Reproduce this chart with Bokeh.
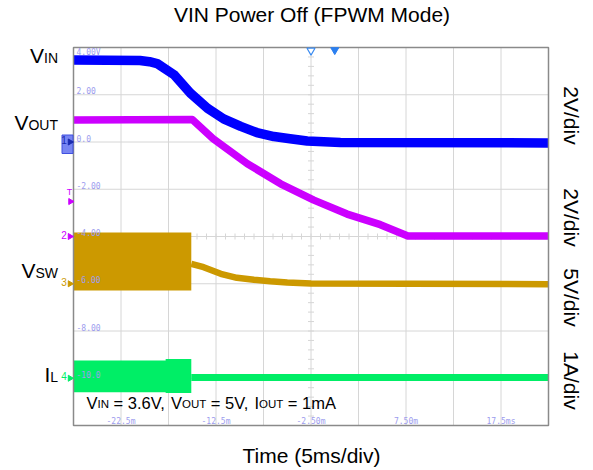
import numpy as np
from bokeh.plotting import figure
from bokeh.models import Range1d
from bokeh.core.properties import value
from bokeh.embed import file_html
from bokeh.resources import INLINE

# ---------------- data ----------------
title_text = "VIN Power Off (FPWM Mode)"
xlabel_text = "Time (5ms/div)"

t_left, t_right = -27.5, 22.5          # ms  (5 ms/div, 10 div)
v_top, v_bottom = 4.0, -12.0           # screen volts (2 V/div, 8 div)
grid_t = [-22.5, -17.5, -12.5, -7.5, -2.5, 2.5, 7.5, 12.5, 17.5]
grid_v = [2.0, 0.0, -2.0, -4.0, -6.0, -8.0, -10.0]
center_t, center_v = -2.5, -4.0
xtick_t = [-22.5, -12.5, -2.5, 7.5, 17.5]
xtick_labels = ["-22.5m", "-12.5m", "-2.50m", "7.50m", "17.5ms"]
ytick_v = [2.0, 0.0, -2.0, -4.0, -6.0, -8.0, -10.0]
ytick_labels = ["2.00", "0.0", "-2.00", "-4.00", "-6.00", "-8.00", "-10.0"]
ytop_label = "4.00V"

vin_t = [-27.5, -20.5, -19.5, -18.7, -16.9, -15.2, -13.4, -11.7, -9.9, -8.2, -6.4, -4.7, -2.9, 0.6, 22.5]
vin_v = [3.47, 3.45, 3.40, 3.32, 2.84, 2.07, 1.43, 0.98, 0.66, 0.40, 0.23, 0.14, 0.04, -0.02, -0.04]

vout_t = [-27.5, -15.0, -12.8, -9.2, -5.7, -2.2, 1.3, 4.8, 7.7, 22.5]
vout_v = [0.93, 0.95, 0.14, -0.92, -1.77, -2.46, -3.05, -3.50, -3.98, -3.98]

vsw_env_t = [-27.5, -15.1]
vsw_env_hi = [-3.83, -3.83]
vsw_env_lo = [-6.29, -6.29]
vsw_t = [-15.1, -13.8, -12.0, -10.3, -8.5, -6.8, -5.0, -2.5, 22.5]
vsw_v = [-5.16, -5.30, -5.58, -5.75, -5.83, -5.89, -5.95, -5.99, -6.02]

il_env_t = [-27.5, -17.8, -17.8, -15.1]
il_env_hi = [-9.25, -9.25, -9.18, -9.18]
il_env_lo = [-10.59, -10.59, -10.62, -10.62]
il_t = [-15.1, 22.5]
il_v = [-9.97, -9.97]

ch_main = ["V", "V", "V", "I"]
ch_sub = ["IN", "OUT", "SW", "L"]
ch_scale = ["2V/div", "2V/div", "5V/div", "1A/div"]
ch_num = ["1", "2", "3", "4"]
ch_ground_v = [0.0, -4.0, -6.0, -10.0]
ch_color = ["#0000FF", "#CC00FF", "#CC9900", "#00EE66"]
trig_level_v = -2.52
trig_t = 0.0

note_parts = [("V", "m"), ("IN", "s"), (" = 3.6V, ", "m"), ("V", "m"), ("OUT", "s"),
              (" = 5V, ", "m"), ("I", "m"), ("OUT", "s"), (" = 1mA", "m")]

# ---------------- layout ----------------
W, H = 593, 470
F_L, F_T = 73, 47          # scope frame top-left (pixels)
PX_MS = 9.5
PX_V = 23.625
CAPC = 0.358               # cap-centre height above baseline, in em


def X(px):
    return t_left + (px - F_L) / PX_MS


def Y(py):
    return v_top - (py - F_T) / PX_V


FONT = value("Liberation Sans")
MONO = value("DejaVu Sans Mono")
AW = {' ': 278, ',': 278, '.': 278, '1': 556, '3': 556, '5': 556, '6': 556, '=': 584,
      'A': 667, 'I': 278, 'L': 556, 'N': 722, 'O': 778, 'S': 667, 'T': 611, 'U': 722,
      'V': 667, 'W': 944, 'm': 833}


def tw(txt, size):
    return sum(AW.get(c, 556) for c in txt) / 1000.0 * size


p = figure(width=W, height=H, x_range=Range1d(X(0), X(W)),
           y_range=Range1d(Y(H), Y(0)), x_axis_type=None, y_axis_type=None,
           toolbar_location=None, output_backend="svg", min_border=0, title=None)
p.outline_line_color = None
p.background_fill_color = "white"
p.border_fill_color = "white"


def put(x_px, base_py, txt, size, color="black", align="left"):
    """text run placed by its baseline; leading spaces become an x shift (SVG trims them)"""
    lead = len(txt) - len(txt.lstrip(" "))
    xs = x_px + tw(" " * lead, size) if align == "left" else x_px
    p.text(x=[X(xs)], y=[Y(base_py - CAPC * size)], text=[txt.strip(" ")], text_font=FONT,
           text_font_size=f"{size}px", text_baseline="middle", text_align=align,
           text_color=color)
    return x_px + tw(txt, size)


GRID = "#D6D6D6"
p.segment(x0=grid_t, y0=[v_bottom] * len(grid_t), x1=grid_t, y1=[v_top] * len(grid_t),
          line_color=GRID, line_width=1)
p.segment(x0=[t_left] * len(grid_v), y0=grid_v, x1=[t_right] * len(grid_v), y1=grid_v,
          line_color=GRID, line_width=1)
mt = np.arange(t_left, t_right + 1e-9, 1.0)
p.segment(x0=mt, y0=center_v - 3 / PX_V, x1=mt, y1=center_v + 3 / PX_V, line_color=GRID, line_width=1)
mv = np.arange(v_bottom, v_top + 1e-9, 0.4)
p.segment(x0=center_t - 3 / PX_MS, y0=mv, x1=center_t + 3 / PX_MS, y1=mv, line_color=GRID, line_width=1)

# traces
p.varea(x=il_env_t, y1=il_env_lo, y2=il_env_hi, fill_color=ch_color[3])
p.line(il_t, il_v, line_width=7, line_color=ch_color[3])
p.varea(x=vsw_env_t, y1=vsw_env_lo, y2=vsw_env_hi, fill_color=ch_color[2])
p.line(vsw_t, vsw_v, line_width=6.5, line_color=ch_color[2])
p.line(vout_t, vout_v, line_width=7.5, line_color=ch_color[1], line_join="round")
p.line(vin_t, vin_v, line_width=9.5, line_color=ch_color[0], line_join="round")

# scope frame
p.quad(left=[t_left], right=[t_right], top=[v_top], bottom=[v_bottom], fill_color=None,
       line_color="#8A8A8A", line_width=1.5)

# scope graticule labels
TICKC = "#9C9CEE"
p.text(x=[X(76)] * len(ytick_v), y=ytick_v, text=ytick_labels, text_font=MONO,
       text_font_size="8px", text_color=TICKC, text_baseline="middle", y_offset=-4)
p.text(x=[X(76)], y=[v_top], text=[ytop_label], text_font=MONO, text_font_size="8px",
       text_color=TICKC, text_baseline="middle", y_offset=5)
p.text(x=xtick_t, y=[v_bottom] * len(xtick_t), text=xtick_labels, text_font=MONO,
       text_font_size="8px", text_color=TICKC, text_align="center",
       text_baseline="middle", y_offset=-4.5)

# top trigger markers
p.scatter(x=[center_t], y=[Y(50)], marker="inverted_triangle", size=8,
          fill_color="white", line_color="#3C8CF0", line_width=1.2)
p.scatter(x=[trig_t], y=[Y(49.5)], marker="inverted_triangle", size=8,
          fill_color="#2A7FF0", line_color="#2A7FF0")

# channel ground markers on the left edge
p.quad(left=[X(61.5)], right=[X(72.5)], top=[ch_ground_v[0] + 7 / PX_V],
       bottom=[ch_ground_v[0] - 11.5 / PX_V], fill_color="#6070F0", fill_alpha=0.85,
       line_color="#4050E0")
p.text(x=[X(63.5)] * 4, y=ch_ground_v, text=ch_num, text_font=FONT, text_font_size="10px",
       text_color=["#1A2AB0"] + ch_color[1:], text_align="center", text_baseline="middle",
       y_offset=-2)
p.scatter(x=[X(69.5)] * 4, y=ch_ground_v, marker="triangle", angle=-np.pi / 2, size=6,
          color=["#1A2AB0"] + ch_color[1:])
p.text(x=[X(69)], y=[trig_level_v], text=["T"], text_font=FONT, text_font_size="9px",
       text_color=ch_color[1], text_align="center", text_baseline="middle", y_offset=-10)
p.scatter(x=[X(70)], y=[trig_level_v], marker="triangle", angle=-np.pi / 2, size=6,
          color=ch_color[1])

# channel names (left)
MAIN, SUB = 21, 14
for mtxt, stxt, base in zip(ch_main, ch_sub, [63, 130, 278, 382]):
    x0 = 57.5 - tw(mtxt, MAIN) - tw(stxt, SUB)
    x1 = put(x0, base, mtxt, MAIN)
    put(x1, base, stxt, SUB)

# channel scales (right, rotated)
p.text(x=[X(570.5)] * 4, y=[Y(c) for c in [115, 217, 297, 380]], text=ch_scale,
       text_font=FONT, text_font_size="21px", angle=-np.pi / 2, text_align="center",
       text_baseline="middle", text_color="black")

# conditions note
xx = 86.0
for txt, kind in note_parts:
    xx = put(xx, 408, txt, 16.5 if kind == "m" else 11.5)

# title and x label
put(311.5, 22, title_text, 21, align="center")
put(311, 463, xlabel_text, 21, align="center")

open("out.html", "w").write(file_html(p, INLINE))
